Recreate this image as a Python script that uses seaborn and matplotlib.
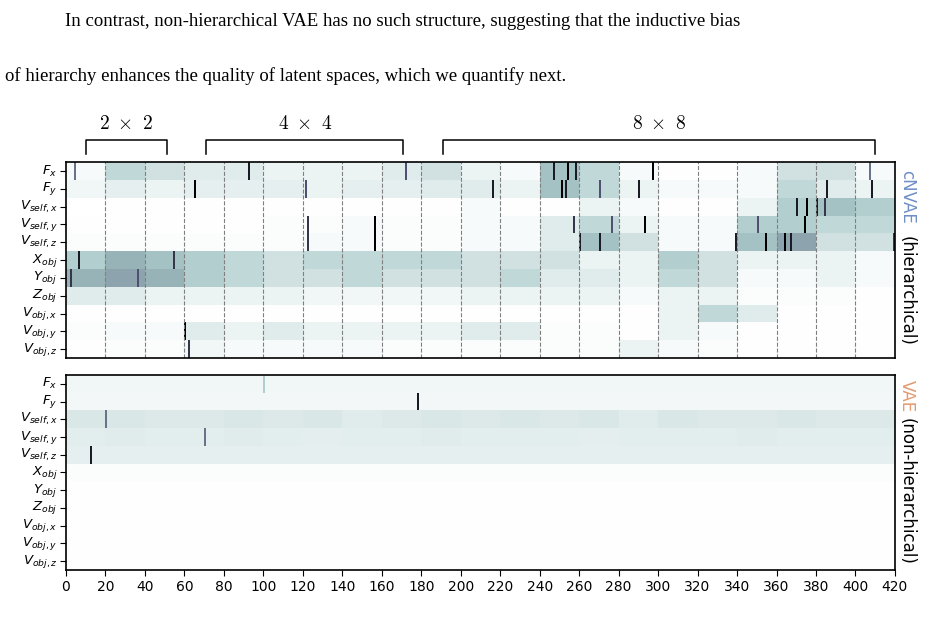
import numpy as np
import pandas as pd
import matplotlib
matplotlib.use("Agg")
import matplotlib.pyplot as plt
import matplotlib.transforms as mtransforms
from matplotlib.colors import PowerNorm
import seaborn as sns

rows = [r'$F_x$', r'$F_y$', r'$V_{self,x}$', r'$V_{self,y}$', r'$V_{self,z}$',
        r'$X_{obj}$', r'$Y_{obj}$', r'$Z_{obj}$', r'$V_{obj,x}$', r'$V_{obj,y}$', r'$V_{obj,z}$']
n_cols = 420
block = 20

# block levels (20 columns each), 0 = white, 1 = black
top_levels = {
    'Fx':     [0.05,0.25,0.2,0.15,0.15,0.1,0.1,0.1,0.15,0.2,0.1,0.05,0.35,0.25,0.05,0.02,0.02,0.05,0.2,0.2,0.05],
    'Fy':     [0.08,0.12,0.1,0.12,0.12,0.12,0.1,0.12,0.12,0.15,0.15,0.1,0.35,0.25,0.1,0.05,0.05,0.05,0.25,0.15,0.1],
    'Vselfx': [0.0,0.02,0.02,0.02,0.02,0.02,0.02,0.02,0.02,0.02,0.05,0.02,0.02,0.1,0.05,0.02,0.02,0.1,0.3,0.35,0.3],
    'Vselfy': [0.02,0.02,0.02,0.02,0.02,0.03,0.03,0.05,0.03,0.03,0.05,0.05,0.15,0.25,0.1,0.05,0.05,0.3,0.3,0.25,0.25],
    'Vselfz': [0.03,0.03,0.03,0.03,0.03,0.03,0.05,0.05,0.03,0.03,0.05,0.05,0.15,0.35,0.2,0.05,0.05,0.35,0.45,0.2,0.2],
    'Xobj':   [0.3,0.4,0.35,0.3,0.25,0.2,0.25,0.25,0.25,0.25,0.2,0.2,0.2,0.1,0.1,0.3,0.2,0.1,0.1,0.1,0.05],
    'Yobj':   [0.4,0.45,0.4,0.3,0.25,0.2,0.2,0.25,0.2,0.2,0.2,0.25,0.15,0.15,0.1,0.25,0.2,0.05,0.05,0.1,0.05],
    'Zobj':   [0.15,0.15,0.1,0.1,0.1,0.1,0.08,0.08,0.08,0.08,0.1,0.1,0.1,0.1,0.05,0.1,0.1,0.03,0.03,0.03,0.02],
    'Vobjx':  [0.02,0.02,0.02,0.02,0.02,0.02,0.02,0.02,0.02,0.02,0.02,0.02,0.02,0.02,0.02,0.1,0.25,0.15,0.02,0.02,0.02],
    'Vobjy':  [0.03,0.05,0.05,0.15,0.1,0.15,0.1,0.1,0.1,0.1,0.15,0.15,0.03,0.03,0.02,0.1,0.05,0.02,0.02,0.02,0.02],
    'Vobjz':  [0.02,0.03,0.03,0.08,0.05,0.05,0.05,0.05,0.03,0.03,0.03,0.03,0.03,0.03,0.1,0.05,0.03,0.02,0.02,0.02,0.02],
}
top_spikes = {
    'Fx':     [(4,0.6),(92,0.9),(172,0.7),(247,0.9),(254,1.0),(258,0.9),(297,1.0),(407,0.6)],
    'Fy':     [(65,1.0),(121,0.7),(216,0.9),(251,1.0),(253,0.9),(270,0.7),(290,0.9),(385,0.9),(408,0.9)],
    'Vselfx': [(370,0.9),(375,1.0),(380,0.9),(384,0.8)],
    'Vselfy': [(122,0.8),(156,1.0),(257,0.8),(276,0.7),(293,1.0),(350,0.7),(374,1.0)],
    'Vselfz': [(122,0.8),(156,1.0),(260,0.9),(270,0.9),(339,0.9),(354,1.0),(364,1.0),(367,0.9),(419,0.8)],
    'Xobj':   [(6,0.9),(54,0.8)],
    'Yobj':   [(2,0.8),(36,0.7)],
    'Vobjy':  [(60,1.0)],
    'Vobjz':  [(62,0.8)],
}
bottom_levels = {
    'Fx':     [0.08]*21,
    'Fy':     [0.07]*21,
    'Vselfx': [0.17,0.17,0.16,0.16,0.17,0.16,0.17,0.15,0.16,0.17,0.16,0.17,0.16,0.17,0.15,0.17,0.16,0.16,0.17,0.16,0.16],
    'Vselfy': [0.14,0.15,0.14,0.14,0.15,0.14,0.13,0.14,0.14,0.15,0.14,0.14,0.14,0.13,0.14,0.14,0.14,0.15,0.14,0.14,0.14],
    'Vselfz': [0.12]*21,
    'Xobj':   [0.03]*21,
    'Yobj':   [0.02]*21,
    'Zobj':   [0.02]*21,
    'Vobjx':  [0.02]*21,
    'Vobjy':  [0.02]*21,
    'Vobjz':  [0.02]*21,
}
bottom_spikes = {
    'Fx':     [(100,0.3)],
    'Fy':     [(178,0.9)],
    'Vselfx': [(20,0.6)],
    'Vselfy': [(70,0.6)],
    'Vselfz': [(12,0.9)],
}

keys = list(top_levels.keys())


def build(levels, spikes):
    mat = np.zeros((len(keys), n_cols))
    for i, k in enumerate(keys):
        mat[i] = np.repeat(levels[k], block)[:n_cols]
        for c, v in spikes.get(k, []):
            mat[i, c] = v
    return pd.DataFrame(mat, index=rows)


fig = plt.figure(figsize=(9.33, 6.26), dpi=100)
ax1 = fig.add_axes([0.0707, 0.428, 0.8885, 0.313])
ax2 = fig.add_axes([0.0707, 0.0895, 0.8885, 0.3115])

for ax, df in [(ax1, build(top_levels, top_spikes)), (ax2, build(bottom_levels, bottom_spikes))]:
    sns.heatmap(df, ax=ax, cmap='bone_r', norm=PowerNorm(gamma=1.25, vmin=0, vmax=1), cbar=False,
                xticklabels=False, yticklabels=True)
    for s in ax.spines.values():
        s.set_visible(True)
        s.set_linewidth(1.2)
    ax.set_yticklabels(rows, rotation=0, fontsize=9.5)
    ax.tick_params(axis='y', length=4, pad=2)

for x in range(20, 420, 20):
    ax1.axvline(x, color='gray', linestyle='--', linewidth=0.8)
ax1.set_xticks([])
ax2.set_xticks(range(0, 421, 20))
ax2.set_xticklabels([str(x) for x in range(0, 421, 20)], rotation=0, fontsize=10)
ax2.tick_params(axis='x', length=4)

trans = mtransforms.blended_transform_factory(ax1.transData, ax1.transAxes)
for a, b, lab in [(10, 51, r'$2\ \times\ 2$'), (71, 171, r'$4\ \times\ 4$'), (191, 410, r'$8\ \times\ 8$')]:
    ax1.plot([a, a, b, b], [1.04, 1.115, 1.115, 1.04], color='black', lw=1.1,
             transform=trans, clip_on=False)
    ax1.text((a + b) / 2, 1.15, lab, transform=trans, ha='center', va='bottom', fontsize=14,
             math_fontfamily='cm')

fig.text(0.972, 1 - 170 / 626, 'cNVAE', color='#6f8fc7', rotation=-90, va='top', ha='center', fontsize=12)
fig.text(0.972, 1 - 236 / 626, '(hierarchical)', color='black', rotation=-90, va='top', ha='center', fontsize=12)
fig.text(0.972, 1 - 380 / 626, 'VAE', color='#e39a6f', rotation=-90, va='top', ha='center', fontsize=12)
fig.text(0.972, 1 - 418 / 626, '(non-hierarchical)', color='black', rotation=-90, va='top', ha='center', fontsize=12)

fig.text(0.07, 1 - 22 / 626, 'In contrast, non-hierarchical VAE has no such structure, suggesting that the inductive bias',
         family='Liberation Serif', fontsize=13.5, va='center')
fig.text(0.005, 1 - 76 / 626, 'of hierarchy enhances the quality of latent spaces, which we quantify next.',
         family='Liberation Serif', fontsize=13.5, va='center')

fig.savefig('out.png', dpi=100)
